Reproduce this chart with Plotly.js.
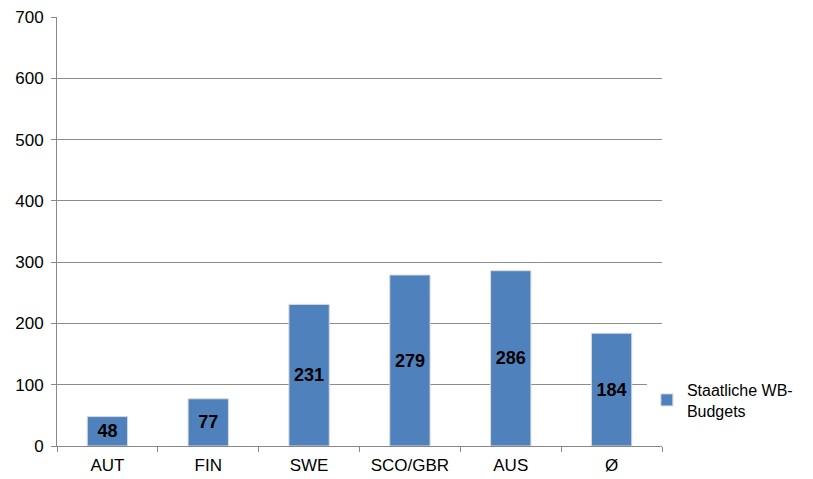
<!DOCTYPE html>
<html>
<head>
<meta charset="utf-8">
<script src="https://cdn.plot.ly/plotly-3.0.1.min.js"></script>
<style>html,body{margin:0;padding:0;background:#fff;}#chart{width:813px;height:479px;}</style>
</head>
<body>
<div id="chart"></div>
<script>
var categories = ["AUT", "FIN", "SWE", "SCO/GBR", "AUS", "Ø"];
var values = [48, 77, 231, 279, 286, 184];
var seriesName = "Staatliche WB-<br>Budgets";
var yTicks = [0, 100, 200, 300, 400, 500, 600, 700];

var trace = {
  type: "bar",
  x: categories,
  y: values,
  name: seriesName,
  text: values.map(String),
  textposition: "inside",
  insidetextanchor: "middle",
  textangle: 0,
  textfont: {family: "Liberation Sans, Arial, sans-serif", size: 18, color: "#000", weight: "bold"},
  marker: {color: "#4F81BD", line: {color: "#d9d9d9", width: 1}},
  showlegend: true
};

var layout = {
  width: 813,
  height: 479,
  margin: {l: 57, r: 151, t: 17, b: 33},
  paper_bgcolor: "#fff",
  plot_bgcolor: "#fff",
  font: {family: "Liberation Sans, Arial, sans-serif", size: 17, color: "#000"},
  bargap: 0.6,
  showlegend: true,
  legend: {
    x: 0.975, xanchor: "left", y: 0.107, yanchor: "middle",
    font: {size: 16, color: "#000"},
    itemwidth: 30, tracegroupgap: 0
  },
  xaxis: {
    type: "category",
    showline: true, linecolor: "#888", linewidth: 1,
    ticks: "outside", tickson: "boundaries", ticklen: 5, tickcolor: "#888",
    ticklabelstandoff: 4,
    showgrid: false, fixedrange: true
  },
  yaxis: {
    range: [0, 700],
    tickvals: yTicks,
    showline: true, linecolor: "#888", linewidth: 1,
    ticks: "outside", ticklen: 5, tickcolor: "#888",
    ticklabelstandoff: 4,
    showgrid: true, gridcolor: "#8c8c8c", gridwidth: 1,
    zeroline: false
  }
};

Plotly.newPlot("chart", [trace], layout, {staticPlot: true, displayModeBar: false});
</script>
</body>
</html>
